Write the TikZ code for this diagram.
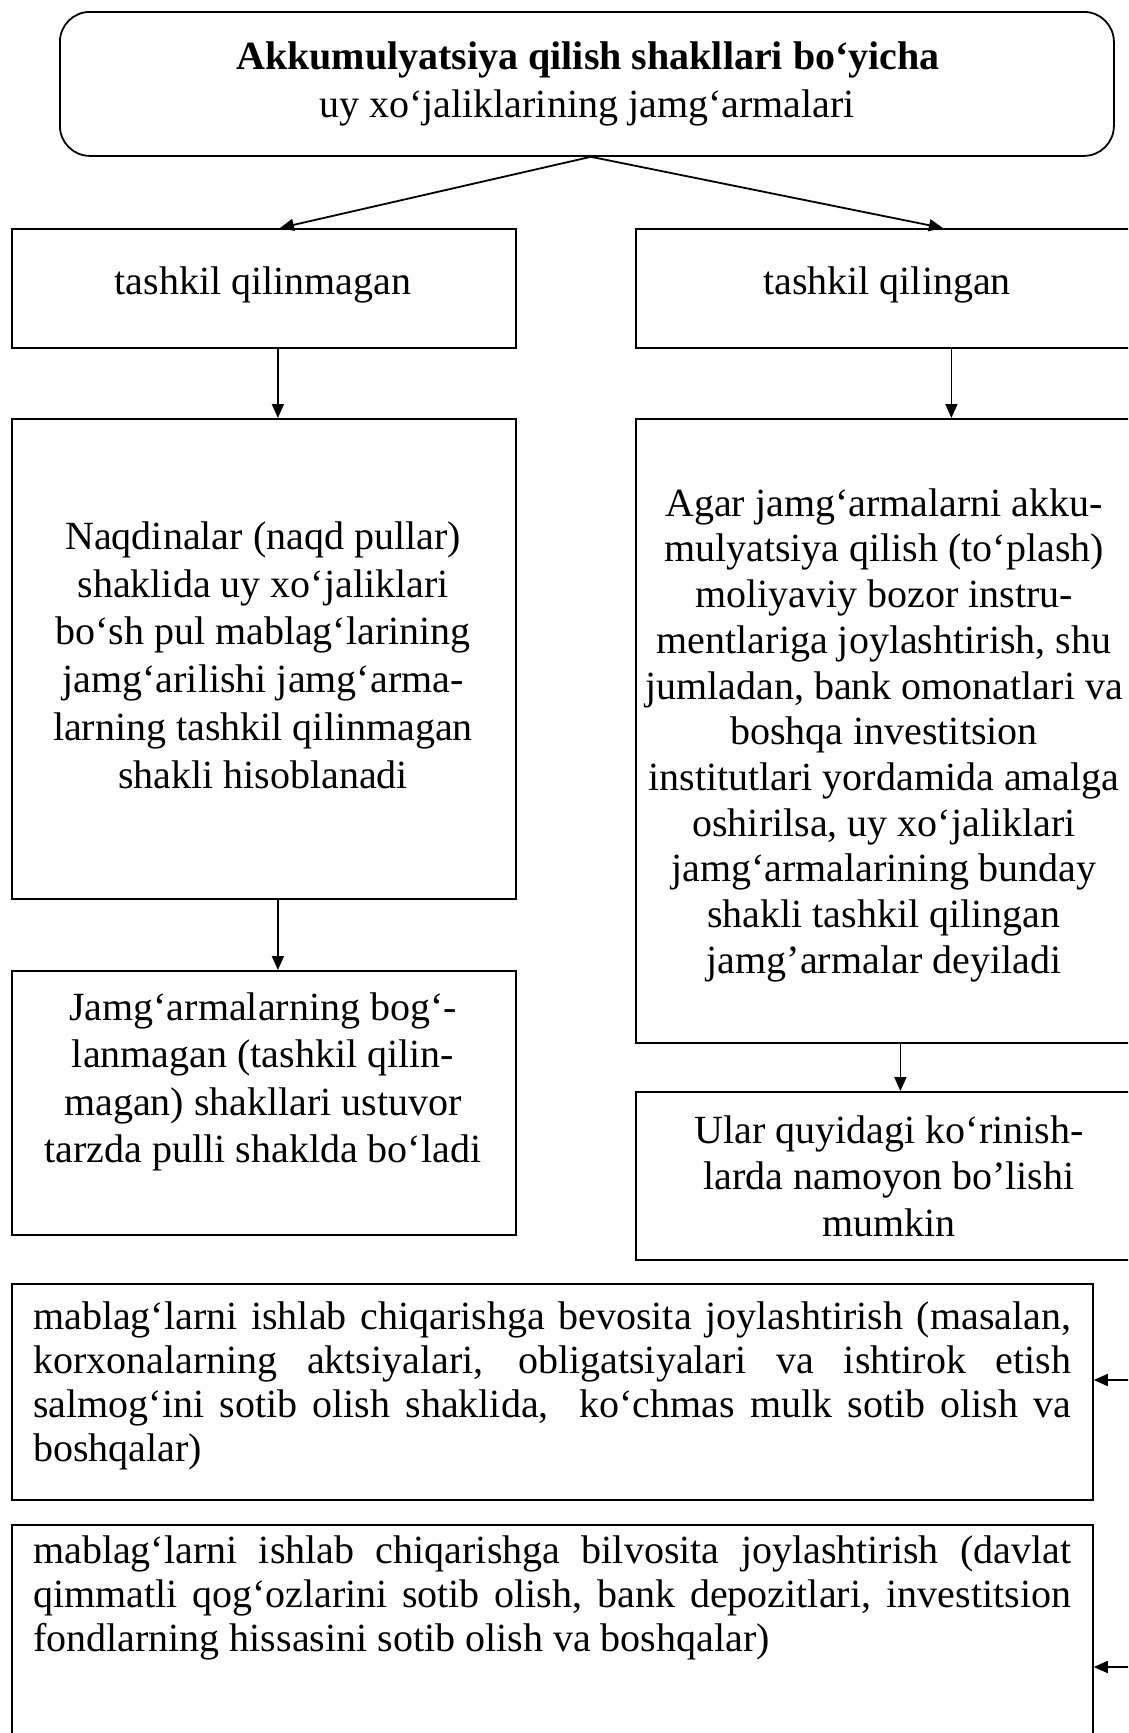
\documentclass[tikz,border=0pt]{standalone}
\usepackage{fontspec}
\setmainfont{Liberation Serif}
\usetikzlibrary{arrows.meta,calc}
\newcommand{\mystrut}{\rule{0pt}{28pt}}
\newcommand{\jline}[1]{{\spaceskip=0pt\xspaceskip=0pt\makebox[1038pt][s]{#1}}}
\tikzset{
  box/.style={draw, line width=1.8pt, rectangle, inner sep=0pt, anchor=north west},
  rbox/.style={box, rounded corners=30pt},
  txt/.style={inner sep=0pt, align=flush center, text width=600pt, anchor=north},
  ltxt/.style={inner sep=0pt, align=flush left, text width=1038pt, anchor=north west, font=\fontsize{40}{44}\selectfont},
  ln/.style={inner sep=0pt, anchor=base, font=\fontsize{40}{46}\selectfont},
  arr/.style={line width=1.8pt, -{Triangle[length=14pt,width=12pt]}},
}
\begin{document}
\begin{tikzpicture}[x=1pt, y=-1pt]
\useasboundingbox (0,0) rectangle (1128,1733);
\fill[white] (0,0) rectangle (1128,1733);
\clip (0,0) rectangle (1128,1733);

% top box
\node[rbox, minimum width=1054pt, minimum height=144pt] (top) at (59,11) {};
\node[ln, font=\bfseries\fontsize{40}{46}\selectfont] (toptitle) at (588,69) {Akkumulyatsiya qilish shakllari bo‘yicha};
\node[ln] (topsub) at (587,117) {uy xo‘jaliklarining jamg‘armalari};

% row 1
\node[box, minimum width=504pt, minimum height=119pt] (b1l) at (11,228) {};
\node[box, minimum width=513pt, minimum height=119pt] (b1r) at (635,228) {};
\node[ln] (t1l) at (263,294) {tashkil qilinmagan};
\node[ln] (t1r) at (887,294) {tashkil qilingan};

% row 2
\node[box, minimum width=504pt, minimum height=480pt] (b2l) at (11,418) {};
\node[txt, font=\fontsize{40}{47.8}\selectfont] (t2l) at (263,521) {\mystrut Naqdinalar (naqd pullar)\\ shaklida uy xo‘jaliklari\\ bo‘sh pul mablag‘larining\\ jamg‘arilishi jamg‘arma-\\ larning tashkil qilinmagan\\ shakli hisoblanadi};

\node[box, minimum width=513pt, minimum height=624pt] (b2r) at (635,418) {};
\node[txt, font=\fontsize{40}{45.7}\selectfont] (t2r) at (884,488) {\mystrut Agar jamg‘armalarni akku-\\ mulyatsiya qilish (to‘plash)\\ moliyaviy bozor instru-\\ mentlariga joylashtirish, shu\\ jumladan, bank omonatlari va\\ boshqa investitsion\\ institutlari yordamida amalga\\ oshirilsa, uy xo‘jaliklari\\ jamg‘armalarining bunday\\ shakli tashkil qilingan\\ jamg’armalar deyiladi};

% row 3
\node[box, minimum width=504pt, minimum height=264pt] (b3l) at (11,970) {};
\node[txt, font=\fontsize{40}{47.5}\selectfont] (t3l) at (263,992) {\mystrut Jamg‘armalarning bog‘-\\ lanmagan (tashkil qilin-\\ magan) shakllari ustuvor\\ tarzda pulli shaklda bo‘ladi};

\node[box, minimum width=513pt, minimum height=168pt] (b3r) at (635,1091) {};
\node[txt, font=\fontsize{40}{46.5}\selectfont] (t3r) at (889,1115) {\mystrut Ular quyidagi ko‘rinish-\\ larda namoyon bo’lishi\\ mumkin};

% bottom boxes
\node[box, minimum width=1081pt, minimum height=216pt] (bb1) at (11,1283) {};
\node[ltxt] (tb1) at (33,1301) {\mystrut\jline{mablag‘larni ishlab chiqarishga bevosita joylashtirish (masalan,}\\ \jline{korxonalarning aktsiyalari, obligatsiyalari va ishtirok etish}\\ \jline{salmog‘ini sotib olish shaklida,\ \ ko‘chmas mulk sotib olish va}\\ boshqalar)};

\node[box, minimum width=1081pt, minimum height=260pt] (bb2) at (11,1524) {};
\node[ltxt] (tb2) at (33,1535) {\mystrut\jline{mablag‘larni ishlab chiqarishga bilvosita joylashtirish (davlat}\\ \jline{qimmatli qog‘ozlarini sotib olish, bank depozitlari, investitsion}\\ fondlarning hissasini sotib olish va boshqalar)};

% connectors
\draw[arr] ([xshift=4pt]top.south) -- ([xshift=16pt]b1l.north);
\draw[arr] ([xshift=4pt]top.south) -- ([xshift=50.5pt]b1r.north);
\draw[arr] ([xshift=14pt]b1l.south) -- ([xshift=14pt]b2l.north);
\draw[arr] ([xshift=59pt]b1r.south) -- ([xshift=59pt]b2r.north);
\draw[arr] ([xshift=14pt]b2l.south) -- ([xshift=14pt]b3l.north);
\draw[arr] ([xshift=8pt]b2r.south) -- ([xshift=8pt]b3r.north);
\coordinate (in1) at (1150,1380);
\coordinate (in2) at (1150,1667);
\draw[arr] (in1) -- (in1 -| bb1.east);
\draw[arr] (in2) -- (in2 -| bb2.east);
\end{tikzpicture}
\end{document}
